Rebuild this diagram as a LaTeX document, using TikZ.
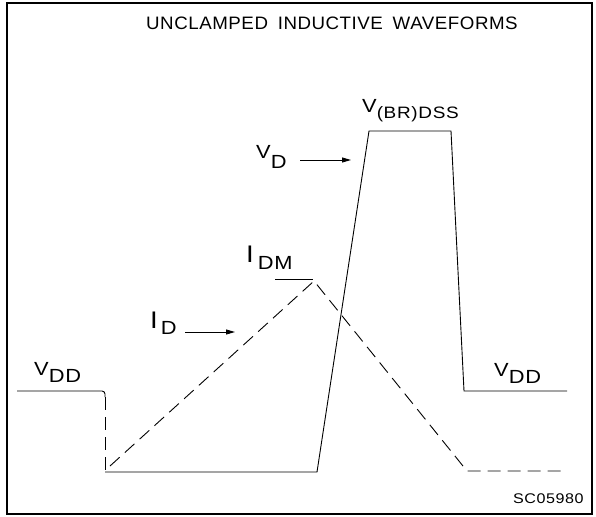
\documentclass[tikz,border=0pt]{standalone}
\usepackage{fontspec}
\newfontfamily\cadfont[FakeStretch=1.15,LetterSpace=4]{Liberation Sans}
\newfontfamily\titlefont[FakeStretch=1.04,LetterSpace=3]{Liberation Sans}
\usetikzlibrary{arrows.meta}
\newcommand{\sig}[3]{#1\raisebox{-#3}{#2}}
\newcommand{\bigI}{{\fontsize{24}{24}\selectfont I}}

\begin{document}
\begin{tikzpicture}[
    x=1pt, y=-1pt,
    lbl/.style={
      anchor=base west,
      inner sep=0pt,
      font=\cadfont\fontsize{19}{19}\selectfont
    },
    wave/.style={
      line width=0.9pt,
      black
    },
    idwave/.style={
      wave,
      dash pattern=on 13pt off 7pt
    },
    arrow/.style={
      -{Triangle[length=9pt,width=5pt]},
      line width=0.9pt
    }
  ]
    \useasboundingbox (0,0) rectangle (596,516);

    % Frame
    \draw[line width=1.5pt] (7,3) rectangle (592,514);

    % Labels
    \node[lbl, font=\titlefont\fontsize{18}{18}\selectfont] (title) at (146,30) {UNCLAMPED\hspace{4pt} INDUCTIVE\hspace{4pt} WAVEFORMS};
    \node[lbl] (vbr) at (362,112) {\sig{V}{\fontsize{16.5}{16.5}\selectfont(BR)DSS}{6.5pt}};
    \node[lbl] (vd) at (256,158.5) {\sig{V}{D}{10pt}};
    \node[lbl] (idm) at (246,262) {\sig{\bigI\hspace{4pt}}{DM}{7pt}};
    \node[lbl] (id) at (150,328) {\sig{\bigI\hspace{3pt}}{D}{6pt}};
    \node[lbl] (vddl) at (34,375) {\sig{V}{DD}{7pt}};
    \node[lbl] (vddr) at (494,376) {\sig{V}{DD}{7pt}};
    \node[lbl, font=\cadfont\fontsize{14}{14}\selectfont] (code) at (513,503) {SC05980};

    % Waveform points
    \coordinate (vdd0) at (17,391);
    \coordinate (vdd1) at (105,391);
    \coordinate (drop) at (105,397);
    \coordinate (low0) at (105,472);
    \coordinate (low1) at (317,472);
    \coordinate (brk0) at (369,131);
    \coordinate (brk1) at (451,131);
    \coordinate (vdd2) at (464,391);
    \coordinate (vdd3) at (567,391);
    \coordinate (id0) at (110,466);
    \coordinate (idpk) at (314,281);
    \coordinate (id1) at (467,471);
    \coordinate (id2) at (567,471);
    \coordinate (idm0) at (275,279);
    \coordinate (idm1) at (313,279);
    \coordinate (vdtail) at (300,160);
    \coordinate (vdtip) at (351,160);
    \coordinate (idtail) at (185,332);
    \coordinate (idtip) at (235,332);

    % Waveforms
    \draw[wave, rounded corners=3pt] (vdd0) -- (vdd1) -- (drop);
    \draw[idwave] (drop) -- (low0);
    \draw[wave] (low0) -- (low1) -- (brk0) -- (brk1) -- (vdd2) -- (vdd3);
    \draw[idwave] (id0) -- (idpk) -- (id1) -- (id2);
    \draw[wave] (idm0) -- (idm1);

    % Arrows
    \draw[arrow] (vdtail) -- (vdtip);
    \draw[arrow] (idtail) -- (idtip);

  \end{tikzpicture}
\end{document}
